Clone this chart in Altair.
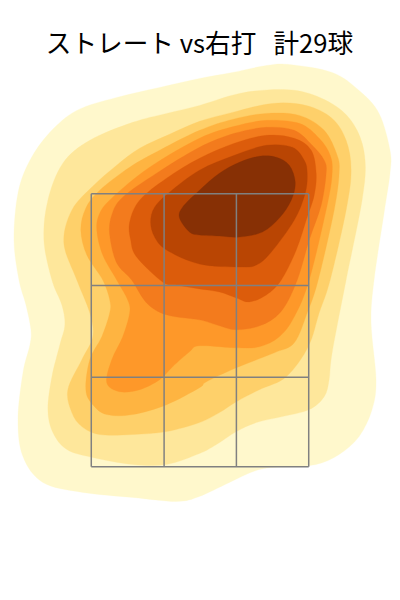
import altair as alt
import pandas as pd

TITLE = "ストレート vs右打\u00a0\u00a0\u00a0計29球"

COLORS = ["#fff8cc", "#fee79b", "#fed06a", "#feb441", "#fe9829",
          "#f37b1d", "#dc5c0b", "#b94503", "#873005"]

L1X = [290,333,360,380,391,391,385,375,372,377,373,360,340,317,290,260,230,200,177,133,83,43,23,18,23,30,31,26,19,14,18,30,50,77,117,160,200,233,267]
L1Y = [64,72,90,113,150,173,213,280,323,380,410,437,455,465,467,470,483,497,502,498,493,483,457,420,373,345,330,305,280,240,193,160,132,110,97,87,78,72,65]

L2X = [240,280,310,340,358,366,363,347,333,330,325,310,283,257,237,217,200,167,133,93,67,53,48,52,60,65,62,52,44,48,63,90,133,167,200]
L2Y = [93,89,93,108,130,160,200,280,353,380,397,410,417,423,432,445,454,465,465,458,450,433,410,377,345,325,305,280,240,200,163,140,122,113,105]

L3X = [233,273,307,333,347,352,347,331,320,309,287,260,237,220,200,167,133,100,82,72,68,82,93,90,77,64,72,93,117,140,170,200]
L3Y = [112,103,105,118,140,170,210,280,313,347,377,390,402,413,423,432,435,435,427,413,390,360,337,313,280,243,210,186,165,148,134,121]

L4X = [233,267,300,325,338,340,335,319,308,295,275,237,207,200,167,133,107,93,86,90,102,110,110,103,87,81,86,100,130,160,200]
L4Y = [119,113,115,130,155,173,210,280,313,343,353,368,382,388,405,415,415,405,390,360,337,313,300,280,255,230,208,190,167,150,130]

L5X = [235,267,300,320,331,333,328,310,295,280,260,237,200,190,173,160,140,120,107,112,123,130,128,117,103,97,100,113,150,200]
L5Y = [126,120,123,138,155,173,205,280,317,337,347,348,346,352,367,380,390,392,383,360,337,313,300,280,255,230,213,197,167,138]

L6X = [235,267,295,313,325,327,322,310,298,283,263,237,217,200,167,147,132,117,110,112,123,157,200]
L6Y = [133,127,130,145,160,173,205,240,280,310,325,330,325,320,315,303,280,263,235,215,197,173,147]

L7X = [235,267,295,312,317,315,308,297,282,267,250,237,220,200,177,163,137,131,130,140,167,200]
L7Y = [143,135,138,150,173,195,217,250,280,295,302,298,292,289,285,282,257,240,222,200,178,158]

L8X = [235,267,293,305,308,306,295,272,257,240,200,167,155,151,155,170,200]
L8Y = [155,145,147,160,173,193,220,252,265,267,264,250,237,222,207,192,170]

L9X = [220,240,260,277,290,296,292,280,263,240,220,200,190,180,183,200]
L9Y = [173,162,156,157,165,182,200,218,232,237,236,235,232,218,207,190]

LEVELS = [(L1X, L1Y), (L2X, L2Y), (L3X, L3Y), (L4X, L4Y), (L5X, L5Y),
          (L6X, L6Y), (L7X, L7Y), (L8X, L8Y), (L9X, L9Y)]

GRID_XS = [91.5, 164.5, 237, 309.5]
GRID_YS = [193.5, 285.5, 377.5, 467.3]

x_scale = alt.Scale(domain=[8, 392], nice=False, zero=False)
y_scale = alt.Scale(domain=[520, 60], nice=False, zero=False)
X = alt.X("x:Q", scale=x_scale, axis=None)
Y = alt.Y("y:Q", scale=y_scale, axis=None)

layers = []
for i, (xs, ys) in enumerate(LEVELS):
    df = pd.DataFrame({"x": xs, "y": ys, "o": range(len(xs))})
    layers.append(
        alt.Chart(df)
        .mark_line(interpolate="cardinal-closed", fill=COLORS[i], stroke=COLORS[i], strokeWidth=0.3)
        .encode(x=X, y=Y, order="o:Q")
    )

vert = pd.DataFrame({"x": GRID_XS, "y": [GRID_YS[0]] * 4, "y2": [GRID_YS[-1]] * 4})
horiz = pd.DataFrame({"y": GRID_YS, "x": [GRID_XS[0]] * 4, "x2": [GRID_XS[-1]] * 4})
layers.append(alt.Chart(vert).mark_rule(color="#808080", strokeWidth=1.5).encode(x=X, y=Y, y2="y2:Q"))
layers.append(alt.Chart(horiz).mark_rule(color="#808080", strokeWidth=1.5).encode(x=X, x2="x2:Q", y=Y))

chart = (
    alt.layer(*layers)
    .properties(
        width=384, height=460,
        padding={"left": 0, "right": 0, "top": 23, "bottom": 0},
        title=alt.TitleParams(TITLE, fontSize=25.7, font="Noto Sans CJK JP", fontWeight="normal",
                              color="#000000", anchor="middle", offset=2),
    )
    .configure_view(stroke=None)
)
chart.save("out.html", embed_options={"renderer": "svg", "actions": False})
